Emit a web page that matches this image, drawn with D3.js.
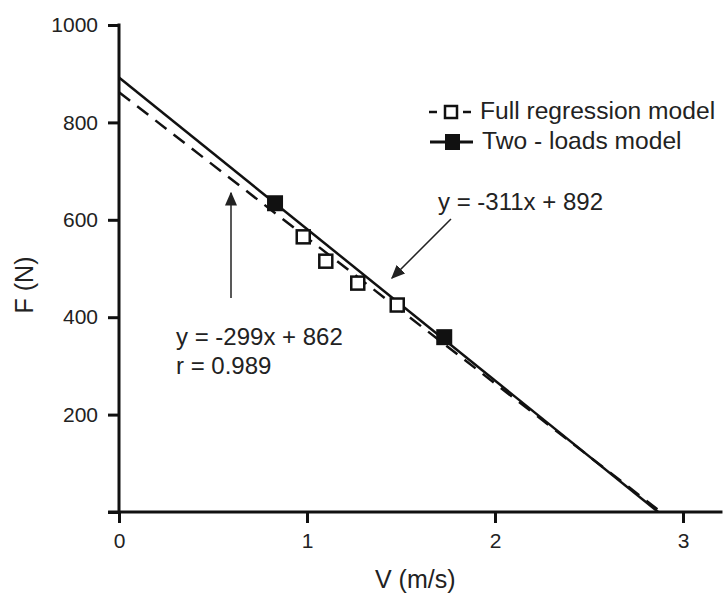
<!DOCTYPE html>
<html><head><meta charset="utf-8">
<script src="https://cdn.jsdelivr.net/npm/d3@7/dist/d3.min.js"></script>
<style>body{margin:0;background:#fff}svg{display:block}text{font-family:Arial,"Liberation Sans",sans-serif;fill:#222}</style>
</head><body>
<svg id="c" width="724" height="594"></svg>
<script>
// Data
const fullV = [0.98, 1.10, 1.27, 1.48];
const fullF = [565, 515, 470, 425];
const twoV = [0.83, 1.73];
const twoF = [634, 359];
const fullFit = {slope: -299, intercept: 862};
const twoFit = {slope: -311, intercept: 892};
const xTicks = [0, 1, 2, 3];
const yTicks = [0, 200, 400, 600, 800, 1000];
const legendLabels = ["Full regression model", "Two - loads model"];
const eqFull = ["y = -299x + 862", "r = 0.989"];
const eqTwo = "y = -311x + 892";

const svg = d3.select("#c");
const x = d3.scaleLinear().domain([0, 3]).range([119, 683]);
const y = d3.scaleLinear().domain([0, 1000]).range([512, 25]);

// axes
const gx = svg.append("g").attr("transform", `translate(0,${y(0)})`)
  .call(d3.axisBottom(x).tickValues(xTicks).tickSize(11).tickSizeOuter(0).tickPadding(10).tickFormat(d3.format("d")));
gx.select(".domain").remove();
gx.selectAll(".tick line").attr("stroke", "#111").attr("stroke-width", 3);
gx.selectAll(".tick text").attr("font-size", 21).attr("fill", "#333").attr("font-family", "Arial");
svg.append("line").attr("x1", x(-0.058)).attr("x2", x(3.21)).attr("y1", y(0)).attr("y2", y(0))
  .attr("stroke", "#111").attr("stroke-width", 3);

const gy = svg.append("g").attr("transform", `translate(${x(0)},0)`)
  .call(d3.axisLeft(y).tickValues(yTicks).tickSize(11).tickSizeOuter(0).tickPadding(10).tickFormat(d => d === 0 ? "" : d));
gy.select(".domain").remove();
gy.selectAll(".tick line").attr("stroke", "#111").attr("stroke-width", 3);
gy.selectAll(".tick text").attr("font-size", 21).attr("fill", "#333").attr("font-family", "Arial");
svg.append("line").attr("x1", x(0)).attr("x2", x(0)).attr("y1", y(1000) - 1.5).attr("y2", y(0))
  .attr("stroke", "#111").attr("stroke-width", 3);

// axis titles
svg.append("text").attr("x", (x(-0.058) + x(3.21)) / 2).attr("y", 588).attr("text-anchor", "middle")
  .attr("font-size", 25).text("V (m/s)");
svg.append("text").attr("transform", "translate(33,285) rotate(-90)").attr("text-anchor", "middle")
  .attr("font-size", 25).text("F (N)");

// regression lines
function fitLine(f) { const x0 = 0, x1 = -f.intercept / f.slope; return [[x0, f.intercept], [x1, 0]]; }
const line = d3.line().x(d => x(d[0])).y(d => y(d[1]));
svg.append("path").attr("d", line(fitLine(fullFit))).attr("fill", "none").attr("stroke", "#111")
  .attr("stroke-width", 2.5).attr("stroke-dasharray", "14,9");
svg.append("path").attr("d", line(fitLine(twoFit))).attr("fill", "none").attr("stroke", "#111")
  .attr("stroke-width", 2.5);

// points
const os = 13;
svg.selectAll(".full").data(fullV).join("rect")
  .attr("x", (d) => x(d) - os / 2).attr("y", (d, i) => y(fullF[i]) - os / 2)
  .attr("width", os).attr("height", os).attr("fill", "#fff").attr("stroke", "#111").attr("stroke-width", 2.5);
const fs = 16;
svg.selectAll(".two").data(twoV).join("rect")
  .attr("x", (d) => x(d) - fs / 2).attr("y", (d, i) => y(twoF[i]) - fs / 2)
  .attr("width", fs).attr("height", fs).attr("fill", "#111");

// arrows
const defs = svg.append("defs");
defs.append("marker").attr("id", "ah").attr("viewBox", "0 0 10 10").attr("refX", 9).attr("refY", 5)
  .attr("markerWidth", 14).attr("markerHeight", 12).attr("markerUnits", "userSpaceOnUse").attr("orient", "auto")
  .attr("preserveAspectRatio", "none")
  .append("path").attr("d", "M0,0 L10,5 L0,10 Z").attr("fill", "#222");
svg.append("line").attr("x1", 231).attr("y1", 298).attr("x2", 231).attr("y2", 193)
  .attr("stroke", "#222").attr("stroke-width", 1.5).attr("marker-end", "url(#ah)");
svg.append("line").attr("x1", 451).attr("y1", 219).attr("x2", 392).attr("y2", 278)
  .attr("stroke", "#222").attr("stroke-width", 1.5).attr("marker-end", "url(#ah)");

// equations
svg.append("text").attr("x", 176).attr("y", 345).attr("font-size", 24).text(eqFull[0]);
svg.append("text").attr("x", 176).attr("y", 374).attr("font-size", 24).text(eqFull[1]);
svg.append("text").attr("x", 438).attr("y", 210).attr("font-size", 24).text(eqTwo);

// legend
const lg = svg.append("g");
const rows = [112, 142];
lg.append("line").attr("x1", 429).attr("x2", 477).attr("y1", rows[0]).attr("y2", rows[0])
  .attr("stroke", "#111").attr("stroke-width", 2.5).attr("stroke-dasharray", "8,9");
lg.append("rect").attr("x", 445).attr("y", rows[0] - 6).attr("width", 12).attr("height", 12)
  .attr("fill", "#fff").attr("stroke", "#111").attr("stroke-width", 2.5);
lg.append("line").attr("x1", 430).attr("x2", 473).attr("y1", rows[1]).attr("y2", rows[1])
  .attr("stroke", "#111").attr("stroke-width", 3);
lg.append("rect").attr("x", 445).attr("y", rows[1] - 8).attr("width", 15).attr("height", 16).attr("fill", "#111");
lg.selectAll(".lt").data(legendLabels).join("text")
  .attr("x", (d, i) => i === 0 ? 480 : 482).attr("y", (d, i) => rows[i] + 7)
  .attr("font-size", 24.6).attr("font-family", "'Open Sans',sans-serif").attr("fill", "#222").text(d => d);
</script>
</body></html>
